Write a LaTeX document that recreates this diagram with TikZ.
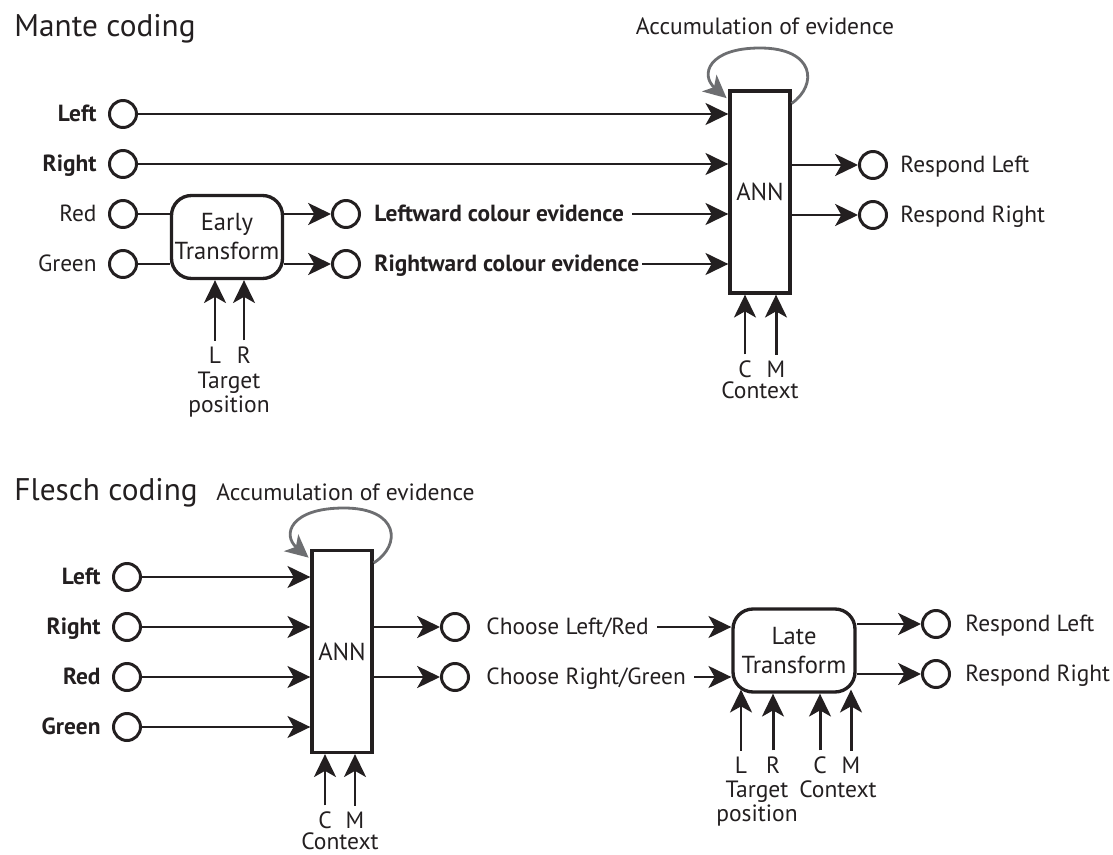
\documentclass[tikz,border=0pt]{standalone}
\usepackage{fontspec}
\setmainfont{PT Sans}
\usetikzlibrary{positioning,arrows.meta}

\definecolor{ink}{HTML}{231F20}
\definecolor{loopgray}{HTML}{6D6E71}

\tikzset{
  unit/.style={circle,draw=ink,line width=1.7pt,minimum size=0.54cm,inner sep=0pt},
  annbox/.style={draw=ink,line width=1.9pt,minimum width=1.2cm,minimum height=4.04cm,inner sep=0pt,font=\fontsize{14}{17}\selectfont},
  xformbox/.style={draw=ink,line width=1.9pt,rounded corners=0.4cm,align=center,inner sep=0pt,font=\fontsize{14}{16.5}\selectfont},
  lab/.style={font=\fontsize{13.3}{16}\selectfont,inner sep=0pt,text height=10pt,text depth=1pt},
  note/.style={font=\fontsize{13.4}{15}\selectfont,inner sep=0pt},
  tick/.style={note,inner ysep=2.5pt},
  heading/.style={font=\fontsize{17.8}{20}\selectfont,inner sep=0pt},
  feedback/.style={draw=loopgray,line width=1.6pt,-{Stealth[length=13pt,width=12.5pt,inset=3.5pt]}},
}

\begin{document}
\begin{tikzpicture}[x=0.02cm,y=-0.02cm,>={Stealth[length=13pt,width=12.5pt,inset=3.5pt]},line width=1.7pt,color=ink]
\useasboundingbox (0,0) rectangle (1113,855);

% Mante coding
\node[heading,anchor=base west] (mTitle) at (13,37) {Mante coding};
\node[unit] (mLeft) at (123,114) {};
\node[unit] (mRight) at (123,164) {};
\node[unit] (mRed) at (123,214) {};
\node[unit] (mGreen) at (123,264) {};
\node[lab,left=0.2cm of mLeft] (mLeftLab) {\textbf{Left}};
\node[lab,left=0.2cm of mRight] (mRightLab) {\textbf{Right}};
\node[lab,left=0.2cm of mRed] (mRedLab) {Red};
\node[lab,left=0.2cm of mGreen] (mGreenLab) {Green};
\node[xformbox,minimum width=2.22cm,minimum height=1.66cm] (mEarly) at (227,237) {Early\\Transform};
\draw (mRed) -- (mRed -| mEarly.west);
\draw (mGreen) -- (mGreen -| mEarly.west);
\node[unit] (mLev) at (346,214) {};
\node[unit] (mRev) at (346,264) {};
\draw[->] (mEarly.east |- mLev) -- (mLev);
\draw[->] (mEarly.east |- mRev) -- (mRev);
\node[lab,right=0.24cm of mLev] (mLevLab) {\textbf{Leftward colour evidence}};
\node[lab,right=0.24cm of mRev] (mRevLab) {\textbf{Rightward colour evidence}};
\node[annbox] (mAnn) at (760,192) {ANN};
\draw[->] (mLeft) -- (mLeft -| mAnn.west);
\draw[->] (mRight) -- (mRight -| mAnn.west);
\draw[->] ([xshift=4pt]mLevLab.east |- mLev) -- (mLev -| mAnn.west);
\draw[->] ([xshift=1pt]mRevLab.east |- mRev) -- (mRev -| mAnn.west);
\node[unit] (mOutL) at (873,165) {};
\node[unit] (mOutR) at (873,215) {};
\draw[->] (mAnn.east |- mOutL) -- (mOutL);
\draw[->] (mAnn.east |- mOutR) -- (mOutR);
\node[lab,right=0.22cm of mOutL] (mOutLLab) {Respond Left};
\node[lab,right=0.22cm of mOutR] (mOutRLab) {Respond Right};
\node[note,anchor=base] (mAcc) at (765,35) {Accumulation of evidence};
\draw[feedback] ([yshift=-8pt]mAnn.north east) .. controls (818,85) and (815,48) .. (760,48)
  .. controls (708,48) and (700,75) .. ([xshift=-1pt,yshift=-5pt]mAnn.north west);
% target position and context
\node[tick,anchor=base] (mTgtL) at (215,363) {L};
\node[tick,anchor=base] (mTgtR) at (244,363) {R};
\node[note,anchor=base] (mTgt) at (229,388) {Target};
\node[note,anchor=base] (mPos) at (229,412) {position};
\draw[->] (mTgtL.north) -- (mTgtL.north |- mEarly.south);
\draw[->] (mTgtR.north) -- (mTgtR.north |- mEarly.south);
\node[tick,anchor=base] (mCtxC) at (745,377) {C};
\node[tick,anchor=base] (mCtxM) at (776,377) {M};
\node[note,anchor=base] (mCtx) at (760,398) {Context};
\draw[->] (mCtxC.north) -- (mCtxC.north |- mAnn.south);
\draw[->] (mCtxM.north) -- (mCtxM.north |- mAnn.south);

% Flesch coding
\node[heading,anchor=base west] (fTitle) at (13,500) {Flesch coding};
\node[note,anchor=base west] (fAcc) at (215,500) {Accumulation of evidence};
\node[unit] (fLeft) at (127,577) {};
\node[unit] (fRight) at (127,627) {};
\node[unit] (fRed) at (127,677) {};
\node[unit] (fGreen) at (127,727) {};
\node[lab,left=0.2cm of fLeft] (fLeftLab) {\textbf{Left}};
\node[lab,left=0.2cm of fRight] (fRightLab) {\textbf{Right}};
\node[lab,left=0.2cm of fRed] (fRedLab) {\textbf{Red}};
\node[lab,left=0.2cm of fGreen] (fGreenLab) {\textbf{Green}};
\node[annbox] (fAnn) at (342,651.5) {ANN};
\draw[->] (fLeft) -- (fLeft -| fAnn.west);
\draw[->] (fRight) -- (fRight -| fAnn.west);
\draw[->] (fRed) -- (fRed -| fAnn.west);
\draw[->] (fGreen) -- (fGreen -| fAnn.west);
\draw[feedback] ([yshift=-8pt]fAnn.north east) .. controls (402,545) and (399,508) .. (344,508)
  .. controls (290,508) and (282,535) .. ([xshift=-1pt,yshift=-5pt]fAnn.north west);
\node[unit] (fChL) at (455,627) {};
\node[unit] (fChR) at (455,677) {};
\draw[->] (fAnn.east |- fChL) -- (fChL);
\draw[->] (fAnn.east |- fChR) -- (fChR);
\node[lab,right=0.3cm of fChL] (fChLLab) {Choose Left/Red};
\node[lab,right=0.3cm of fChR] (fChRLab) {Choose Right/Green};
\node[xformbox,minimum width=2.44cm,minimum height=1.66cm] (fLate) at (794,650.5) {Late\\Transform};
\draw[->] ([xshift=4pt]fChLLab.east |- fChL) -- (fChL -| fLate.west);
\draw[->] ([xshift=4pt]fChRLab.east |- fChR) -- (fChR -| fLate.west);
\node[unit] (fOutL) at (936,624) {};
\node[unit] (fOutR) at (936,674) {};
\draw[->] (fLate.east |- fOutL) -- (fOutL);
\draw[->] (fLate.east |- fOutR) -- (fOutR);
\node[lab,right=0.26cm of fOutL] (fOutLLab) {Respond Left};
\node[lab,right=0.26cm of fOutR] (fOutRLab) {Respond Right};
% inputs to the late transform
\node[tick,anchor=base] (fTgtL) at (741,773) {L};
\node[tick,anchor=base] (fTgtR) at (773,773) {R};
\node[note,anchor=base] (fTgt) at (757,797) {Target};
\node[note,anchor=base] (fPos) at (757,821) {position};
\node[tick,anchor=base] (fLateC) at (820,773) {C};
\node[tick,anchor=base] (fLateM) at (851,773) {M};
\node[note,anchor=base] (fLateCtx) at (838,797) {Context};
\draw[->] (fTgtL.north) -- ([yshift=2.3pt]fTgtL.north |- fLate.south);
\draw[->] (fTgtR.north) -- (fTgtR.north |- fLate.south);
\draw[->] (fLateC.north) -- (fLateC.north |- fLate.south);
\draw[->] (fLateM.north) -- ([yshift=2.3pt]fLateM.north |- fLate.south);
% context of the ANN
\node[tick,anchor=base] (fCtxC) at (325,828) {C};
\node[tick,anchor=base] (fCtxM) at (355,828) {M};
\node[note,anchor=base] (fCtx) at (340,849) {Context};
\draw[->] (fCtxC.north) -- (fCtxC.north |- fAnn.south);
\draw[->] (fCtxM.north) -- (fCtxM.north |- fAnn.south);
\end{tikzpicture}
\end{document}
